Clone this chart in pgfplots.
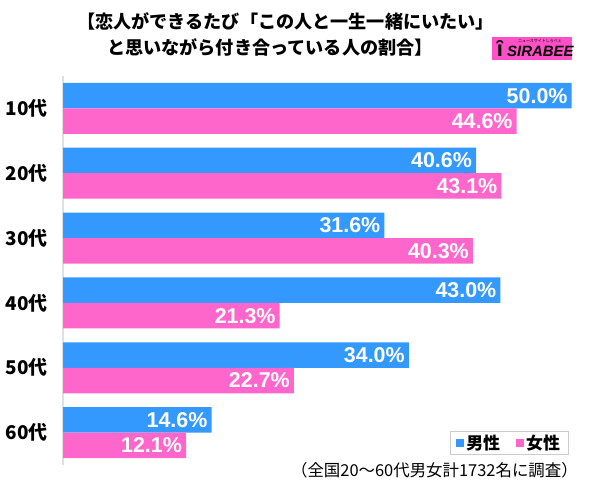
\documentclass[border=0pt]{standalone}
\usepackage{pgfplots}
\pgfplotsset{compat=1.18}
\usepackage{fontspec}
\setmainfont{Liberation Sans}
\newfontfamily\jp{Noto Sans CJK JP}
\definecolor{mblue}{RGB}{51,153,255}
\definecolor{fpink}{RGB}{255,102,204}
\definecolor{logopink}{RGB}{255,80,200}
\begin{document}
\begin{tikzpicture}[x=1bp,y=1bp]
\useasboundingbox (0,0) rectangle (600,493);
\begin{axis}[
  at={(63bp,28bp)}, anchor=south west,
  scale only axis, width=529bp, height=389bp,
  xbar, xmin=0, xmax=52, ymin=-0.5, ymax=5.5, y dir=reverse,
  axis x line=none, axis y line=left,
  y axis line style={draw=black!12, line width=1.5bp, -},
  ytick={0,1,2,3,4,5},
  yticklabels={10代,20代,30代,40代,50代,60代},
  yticklabel style={font=\jp\bfseries\fontsize{19}{19}\selectfont, text=black, inner sep=0pt, xshift=-15bp},
  major tick length=0pt,
  bar width=25.5bp,
  point meta=x,
  /pgf/number format/assume math mode=true,
  nodes near coords={\pgfmathprintnumber[fixed,fixed zerofill,precision=1,assume math mode=true]{\pgfplotspointmeta}\%},
  nodes near coords style={anchor=east, text=white, font=\bfseries\fontsize{21.5}{21.5}\selectfont, inner sep=1bp, xshift=-3bp},
  legend image code/.code={\fill[#1] (0bp,-4bp) rectangle (8bp,4bp);},
  legend columns=2,
  legend style={draw=black!20, font=\jp\bfseries\fontsize{17}{17}\selectfont, at={(0.955,0.026)}, anchor=south east, inner xsep=6bp, inner ysep=2bp, /tikz/every even column/.append style={column sep=14bp}},
]
\addplot[fill=mblue, draw=none, bar shift=12.75bp] coordinates {(50.0,0) (40.6,1) (31.6,2) (43.0,3) (34.0,4) (14.6,5)};
\addplot[fill=fpink, draw=none, bar shift=-12.75bp] coordinates {(44.6,0) (43.1,1) (40.3,2) (21.3,3) (22.7,4) (12.1,5)};
\legend{男性,女性}
\end{axis}
\node[font=\jp\bfseries\fontsize{18.2}{18.2}\selectfont, anchor=west, inner sep=0pt] at (77,472) {【恋人ができるたび「この人と一生一緒にいたい」};
\node[font=\jp\bfseries\fontsize{18.2}{18.2}\selectfont, anchor=west, inner sep=0pt] at (107,446) {と思いながら付き合っている人の割合】};
\fill[logopink] (492,433) rectangle (572,456);
\node[font=\jp\fontsize{4}{4}\selectfont, inner sep=0pt] at (540,452) {ニュースサイトしらべぇ};
\node[font=\bfseries\itshape\fontsize{15}{15}\selectfont, inner sep=0pt, anchor=west] at (507,442) {SIRABEE};
\node[font=\bfseries\fontsize{22}{22}\selectfont, inner sep=0pt] at (500,444) {ȋ};
\node[font=\jp\fontsize{16.5}{16.5}\selectfont, anchor=east, inner sep=0pt] at (578,23) {（全国20～60代男女計1732名に調査）};
\end{tikzpicture}
\end{document}
